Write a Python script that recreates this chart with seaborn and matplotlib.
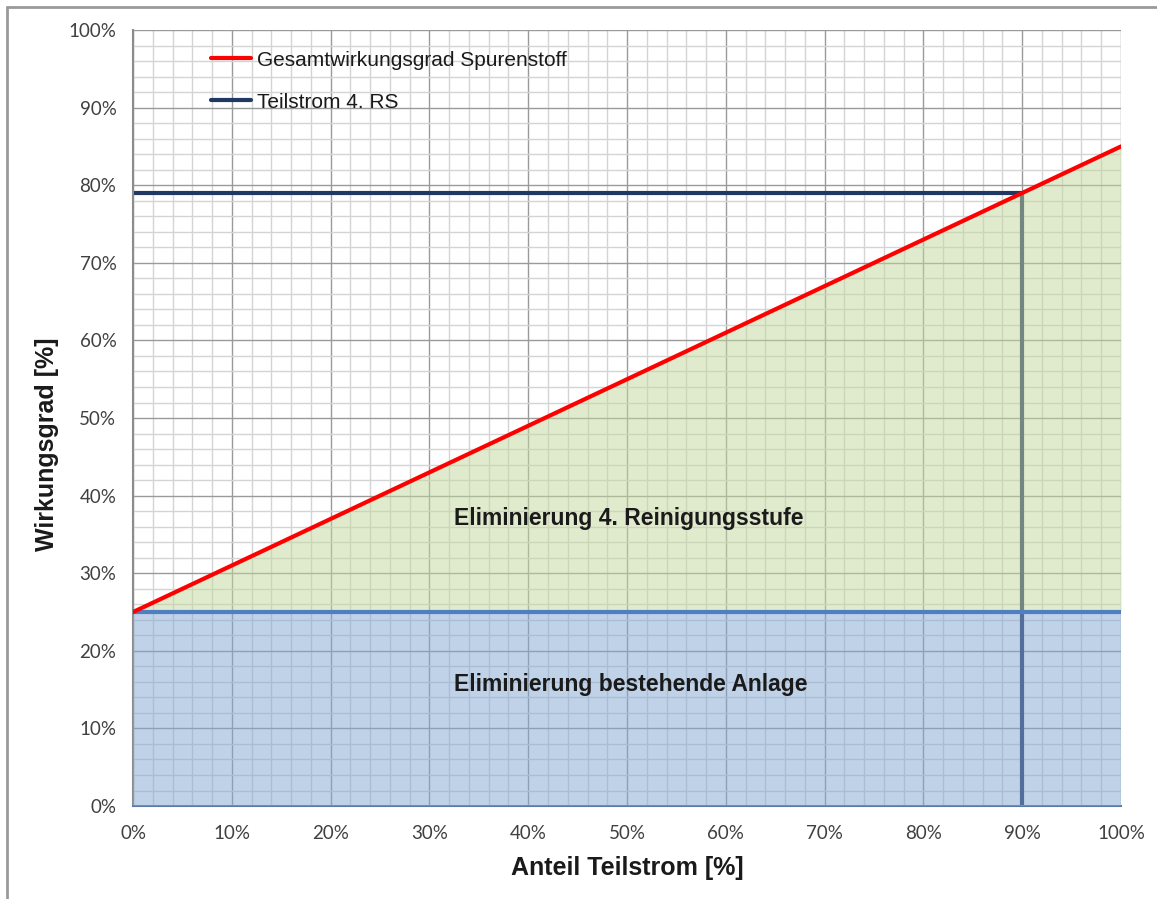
import numpy as np
import pandas as pd
import matplotlib
matplotlib.use("Agg")
import matplotlib.pyplot as plt
from matplotlib.lines import Line2D
from matplotlib.ticker import PercentFormatter, MultipleLocator
import seaborn as sns

# Data (percent)
anteil = [0, 100]                 # Anteil Teilstrom
gesamt = [25, 85]                 # Gesamtwirkungsgrad Spurenstoff
bestand = [25, 25]                # Eliminierung bestehende Anlage
teil_x = [0, 90, 90]              # Teilstrom 4. RS (Arbeitspunkt)
teil_y = [79, 79, 0]

sns.set_style("white")
plt.rcParams["font.family"] = ["Liberation Sans", "DejaVu Sans"]

fig = plt.figure(figsize=(11.57, 8.99), dpi=100)
ax = fig.add_axes([0.1150, 0.1034, 0.8539, 0.8632])

df_ges = pd.DataFrame({"x": anteil, "y": gesamt})
df_teil = pd.DataFrame({"x": teil_x, "y": teil_y})

# operating point line (beneath the filled regions)
ax.plot(df_teil["x"], df_teil["y"], color="#1f3864", lw=3, zorder=2,
        solid_capstyle="butt", solid_joinstyle="miter")

# filled regions
ax.fill_between(anteil, 0, bestand, color="#83a7d1", alpha=0.5, lw=0, zorder=3)
ax.fill_between(anteil, bestand, gesamt, color="#c3d79b", alpha=0.5, lw=0, zorder=3)
ax.plot(anteil, bestand, color="#4f7fc0", lw=3, zorder=4)

sns.lineplot(data=df_ges, x="x", y="y", color="#ff0000", lw=3, ax=ax, zorder=5)

# legend proxies
handles = [Line2D([], [], color="#ff0000", lw=3),
           Line2D([], [], color="#1f3864", lw=3)]
labels = ["Gesamtwirkungsgrad Spurenstoff", "Teilstrom 4. RS"]
leg = ax.legend(handles, labels, loc="upper left", bbox_to_anchor=(0.070, 0.984),
                frameon=False, fontsize=15, handlelength=1.95, handletextpad=0.3,
                labelspacing=1.1, borderaxespad=0)
for t in leg.get_texts():
    t.set_color("#1a1a1a")

ax.text(50.2, 37, "Eliminierung 4. Reinigungsstufe", ha="center", va="center",
        fontsize=16.5, fontweight="bold", color="#1a1a1a", zorder=6)
ax.text(50.4, 15.7, "Eliminierung bestehende Anlage", ha="center", va="center",
        fontsize=16.5, fontweight="bold", color="#1a1a1a", zorder=6)

ax.set_xlim(0, 100)
ax.set_ylim(0, 100)
ax.xaxis.set_major_locator(MultipleLocator(10))
ax.yaxis.set_major_locator(MultipleLocator(10))
ax.xaxis.set_minor_locator(MultipleLocator(2))
ax.yaxis.set_minor_locator(MultipleLocator(2))
ax.xaxis.set_major_formatter(PercentFormatter(xmax=100, decimals=0))
ax.yaxis.set_major_formatter(PercentFormatter(xmax=100, decimals=0))
ax.grid(which="major", color="#9a9a9a", lw=1, zorder=0)
ax.grid(which="minor", color="#d4d4d4", lw=1, zorder=0)
ax.set_axisbelow(True)

ax.tick_params(which="major", direction="out", length=6, width=1.2,
               colors="#6f6f6f", labelcolor="#404040", labelsize=13.5, pad=6)
ax.tick_params(axis="x", which="major", colors="#5a7aa5", labelcolor="#404040", pad=8)
ax.tick_params(which="minor", length=0)
for lab in ax.get_xticklabels() + ax.get_yticklabels():
    lab.set_fontfamily(["Lato", "DejaVu Sans"])

for s in ["top", "right"]:
    ax.spines[s].set_visible(False)
ax.spines["left"].set_color("#8c8c8c")
ax.spines["left"].set_linewidth(1.5)
ax.spines["bottom"].set_color("#5a7aa5")
ax.spines["bottom"].set_linewidth(1.5)

ax.set_xlabel("Anteil Teilstrom [%]", fontsize=18, fontweight="bold", color="#1a1a1a")
ax.set_ylabel("Wirkungsgrad [%]", fontsize=18, fontweight="bold", color="#1a1a1a")
ax.xaxis.set_label_coords(0.5, -0.064)
ax.yaxis.set_label_coords(-0.075, 0.466)

# outer frame
fig.add_artist(Line2D([0.006, 1.0], [0.992, 0.992], transform=fig.transFigure,
                      color="#9a9a9a", lw=2))
fig.add_artist(Line2D([0.006, 0.006], [0.0, 0.992], transform=fig.transFigure,
                      color="#9a9a9a", lw=2))

fig.savefig("out.png", dpi=100)
